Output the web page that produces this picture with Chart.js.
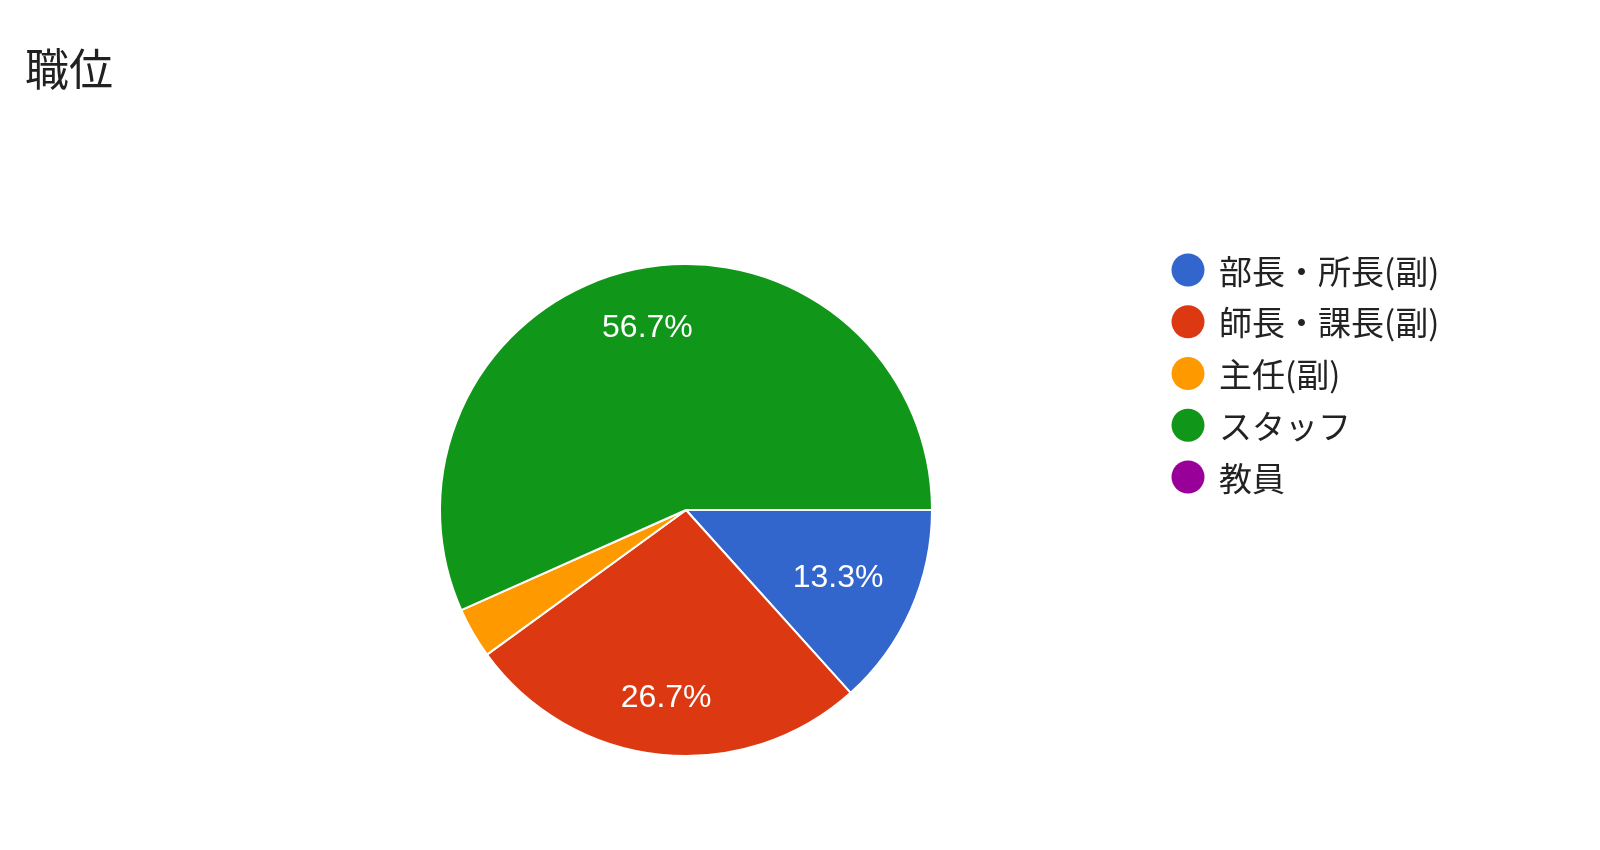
<!DOCTYPE html>
<html>
<head>
<meta charset="utf-8">
<script src="https://cdn.jsdelivr.net/npm/chart.js@4.4.1/dist/chart.umd.min.js"></script>
<style>
  html, body { margin: 0; padding: 0; background: #ffffff; }
  #wrap { width: 1600px; height: 850px; position: relative; }
</style>
</head>
<body>
<div id="wrap"><canvas id="c" width="1600" height="850"></canvas></div>
<script>
const chartTitle = '職位';
const categories = ['部長・所長(副)', '師長・課長(副)', '主任(副)', 'スタッフ', '教員'];
const counts = [4, 8, 1, 17, 0];
const colors = ['#3366CC', '#DC3912', '#FF9900', '#109618', '#990099'];

const decorPlugin = {
  id: 'decor',
  afterDatasetsDraw(chart) {
    const ctx = chart.ctx;
    const meta = chart.getDatasetMeta(0);
    const data = chart.data.datasets[0].data;
    const total = data.reduce((a, b) => a + b, 0);
    ctx.save();
    ctx.fillStyle = '#ffffff';
    ctx.font = '32px "Liberation Sans", Arial, sans-serif';
    ctx.textAlign = 'center';
    ctx.textBaseline = 'middle';
    meta.data.forEach((arc, i) => {
      const v = data[i];
      if (!v) return;
      const pct = v / total * 100;
      if (pct < 5) return;
      const txt = pct.toFixed(1) + '%';
      const p = arc.getProps(['x', 'y', 'startAngle', 'endAngle', 'outerRadius'], true);
      const mid = (p.startAngle + p.endAngle) / 2;
      const hw = ctx.measureText(txt).width / 2;
      const hh = 16;
      const limit = p.outerRadius * 0.873;
      const cx = Math.cos(mid), cy = Math.sin(mid);
      let best = 0;
      for (let t = 0; t <= p.outerRadius; t += 0.5) {
        const bx = cx * t, by = cy * t;
        const far = Math.hypot(Math.abs(bx) + hw, Math.abs(by) + hh);
        if (far <= limit) best = t; else break;
      }
      ctx.fillText(txt, p.x + cx * best, p.y + cy * best);
    });
    ctx.restore();
  },
  afterDraw(chart) {
    const ctx = chart.ctx;
    ctx.save();
    // title
    ctx.fillStyle = '#212121';
    ctx.font = '44px "Noto Sans CJK JP", sans-serif';
    ctx.textAlign = 'left';
    ctx.textBaseline = 'middle';
    ctx.fillText(chartTitle, 25, 69);
    // legend
    const labels = chart.data.labels;
    const bg = chart.data.datasets[0].backgroundColor;
    ctx.font = '33px "Noto Sans CJK JP", sans-serif';
    labels.forEach((lab, i) => {
      const cy = 270 + i * 51.75;
      ctx.beginPath();
      ctx.arc(1188, cy, 16.5, 0, Math.PI * 2);
      ctx.fillStyle = bg[i];
      ctx.fill();
      ctx.fillStyle = '#222222';
      ctx.fillText(lab, 1219, cy + 1);
    });
    ctx.restore();
  }
};

new Chart(document.getElementById('c'), {
  type: 'pie',
  data: {
    labels: categories,
    datasets: [{
      data: counts,
      backgroundColor: colors,
      borderColor: '#ffffff',
      borderWidth: 2,
      hoverOffset: 0
    }]
  },
  options: {
    responsive: false,
    animation: false,
    rotation: 90,
    layout: { padding: { left: 439, right: 667, top: 263, bottom: 93 } },
    plugins: {
      legend: { display: false },
      title: { display: false },
      tooltip: { enabled: false }
    }
  },
  plugins: [decorPlugin]
});
</script>
</body>
</html>
